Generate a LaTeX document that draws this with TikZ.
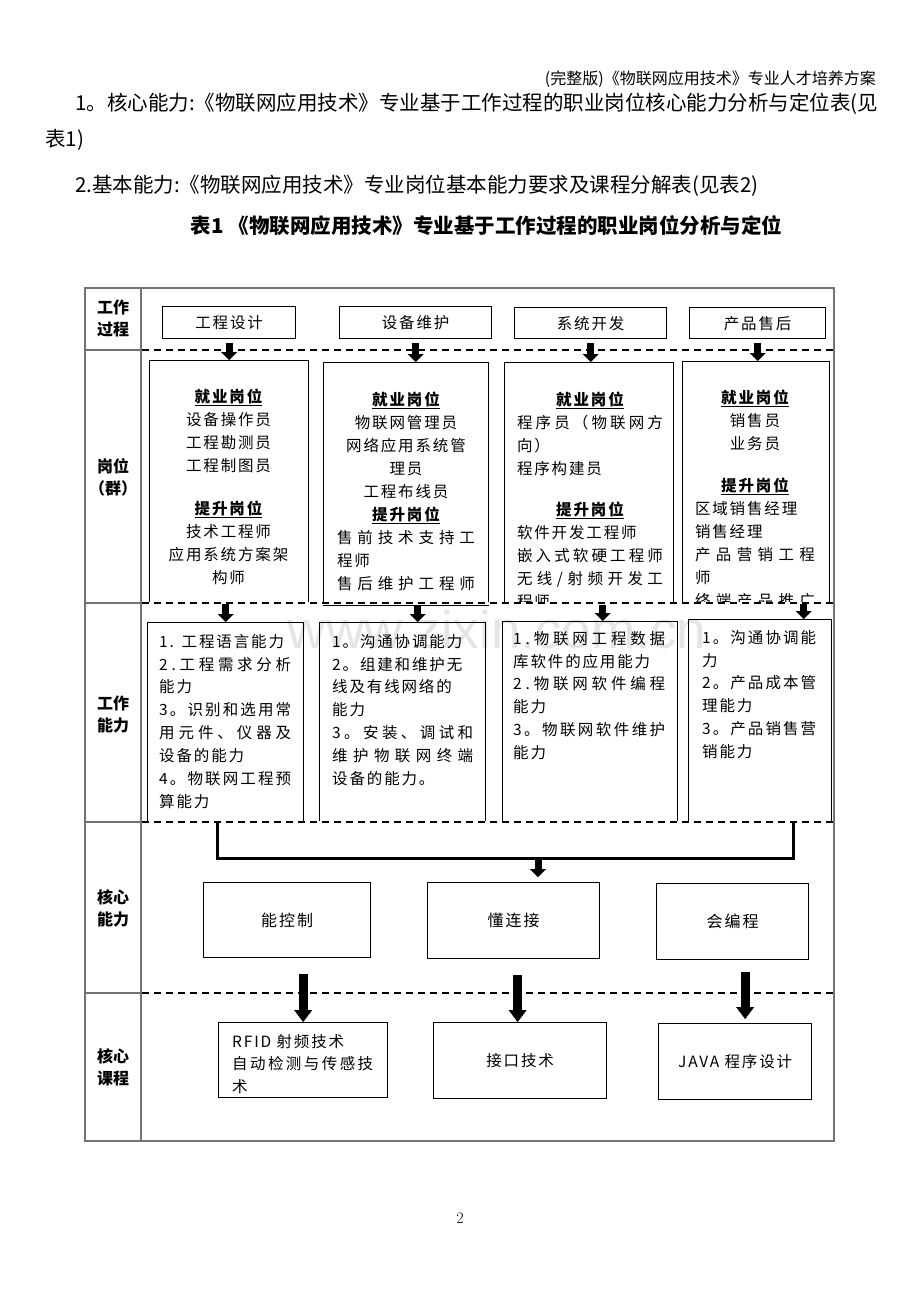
\documentclass[tikz,border=0pt]{standalone}
\usepackage{fontspec}
\usetikzlibrary{arrows.meta}
\newfontfamily\cjk{Noto Sans CJK SC}
\newfontfamily\cjkbox{Noto Sans CJK SC}[LetterSpace=12]
\newfontfamily\wmfont{Liberation Sans}
\setlength\parindent{0pt}
\newcommand\head[1]{\underline{\bfseries #1}}
\newcommand\lft[1]{\leavevmode\hbox to\hsize{#1\hfil}}
\newcommand\spread[2]{\leavevmode\hbox to #1{\spreadfirst#2\relax}}
\def\spreadfirst#1{#1\spreadrest}
\def\spreadrest#1{\ifx#1\relax\else\hfill#1\expandafter\spreadrest\fi}

\begin{document}
\begin{tikzpicture}[x=1pt,y=-1pt,
    box/.style={draw,line width=1.3pt,inner sep=0pt,anchor=north west,font=\cjkbox\fontsize{15.5}{20}\selectfont},
    jobtext/.style={inner sep=0pt,anchor=north,align=center,font=\cjkbox\fontsize{15.5}{23}\selectfont},
    abltext/.style={inner sep=0pt,anchor=north west,align=left,font=\cjkbox\fontsize{15.5}{22.85}\selectfont},
    lab/.style={inner sep=0pt,align=center,font=\cjk\bfseries\fontsize{16}{22}\selectfont},
    hd/.style={inner sep=0pt,font=\cjk\fontsize{20.5}{24}\selectfont},
    grid/.style={draw=black!55,line width=1.2pt},
    rowline/.style={line width=1.4pt,dash pattern=on 7pt off 5pt,preaction={draw=white,solid,line width=3pt}},
    bigarrow/.style={line width=7pt,-{Triangle[length=8pt,width=16pt,line width=0.2pt]}},
    fatarrow/.style={line width=9pt,-{Triangle[length=12pt,width=18pt,line width=0.2pt]}},
    bus/.style={line width=3pt}]
  \useasboundingbox (0,0) rectangle (920,1302);

  % page heading
  \node[hd,anchor=east,font=\cjk\fontsize{16}{18}\selectfont] (hd0) at (876,79) {(完整版)《物联网应用技术》专业人才培养方案};
  \node[hd,anchor=west] (hd1) at (75,104) {1。核心能力:《物联网应用技术》专业基于工作过程的职业岗位核心能力分析与定位表(见};
  \node[hd,anchor=west] (hd2) at (45,140) {表1)};
  \node[hd,anchor=west] (hd3) at (75,186) {2.基本能力:《物联网应用技术》专业岗位基本能力要求及课程分解表(见表2)};
  \node[hd,font=\cjk\bfseries\fontsize{20.5}{24}\selectfont] (title) at (486.5,226) {表1\ 《物联网应用技术》专业基于工作过程的职业岗位分析与定位};
  \node[text=black!10,font=\wmfont\fontsize{53}{53}\selectfont] (wm) at (497,630) {www.zixin.com.cn};

  % table
  \draw[grid] (85,288) rectangle (834,1141);
  \draw[grid] (141,288) -- (141,1141);
  \foreach \y in {350,603,822,993}
    \draw[grid] (85,\y) -- (141,\y);

  \node[lab] (l1) at (113,318) {工作\\过程};
  \node[lab] (l2) at (113,477.5) {岗位\\（群）};
  \node[lab] (l3) at (113,714) {工作\\能力};
  \node[lab] (l4) at (113,908) {核心\\能力};
  \node[lab] (l5) at (113,1067) {核心\\课程};

  % work process
  \node[box,minimum width=133pt,minimum height=32pt] (p1) at (162,306) {工程设计};
  \node[box,minimum width=152pt,minimum height=32pt] (p2) at (339,306) {设备维护};
  \node[box,minimum width=152pt,minimum height=31pt] (p3) at (514,307) {系统开发};
  \node[box,minimum width=136pt,minimum height=31pt] (p4) at (689,307) {产品售后};

  % posts
  \node[box,minimum width=159pt,minimum height=243pt] (j1) at (149,360) {};
  \node[box,minimum width=165pt,minimum height=243pt] (j2) at (323,362) {};
  \node[box,minimum width=169pt,minimum height=242pt] (j3) at (504,362) {};
  \node[box,minimum width=147pt,minimum height=242pt] (j4) at (682,361) {};
  \begin{scope}
    \clip (141,350) rectangle (834,604);
    \node[jobtext] (j1t) at (228.5,389) {\head{就业岗位}\\设备操作员\\工程勘测员\\工程制图员\\[20pt]\head{提升岗位}\\技术工程师\\应用系统方案架\\构师};
    \node[jobtext,text width=138pt] (j2t) at (406,392) {\head{就业岗位}\\物联网管理员\\网络应用系统管\\理员\\工程布线员\\\head{提升岗位}\\\spread{\hsize}{售前技术支持工}\\\lft{程师}\\\spread{\hsize}{售后维护工程师}};
    \node[jobtext,text width=146pt] (j3t) at (590,392) {\head{就业岗位}\\\spread{\hsize}{程序员（物联网方}\\\lft{向）}\\\lft{程序构建员}\\[18pt]\head{提升岗位}\\\lft{软件开发工程师}\\\spread{\hsize}{嵌入式软硬工程师}\\\spread{\hsize}{无线/射频开发工}\\\lft{程师}};
    \node[jobtext,text width=120pt] (j4t) at (755,390) {\head{就业岗位}\\销售员\\业务员\\[19pt]\head{提升岗位}\\\lft{区域销售经理}\\\lft{销售经理}\\\spread{\hsize}{产品营销工程}\\\lft{师}\\\spread{\hsize}{终端产品推广}};
  \end{scope}

  % work abilities
  \node[box,minimum width=156pt,minimum height=200pt] (a1) at (147,622) {};
  \node[box,minimum width=166pt,minimum height=200pt] (a2) at (319,622) {};
  \node[box,minimum width=175pt,minimum height=201pt] (a3) at (502,621) {};
  \node[box,minimum width=143pt,minimum height=203pt] (a4) at (688,619) {};
  \node[abltext,text width=132pt] (a1t) at (159,634) {1. 工程语言能力\\\spread{\hsize}{2.工程需求分析}\\能力\\\spread{\hsize}{3。识别和选用常}\\\spread{\hsize}{用元件、仪器及}\\设备的能力\\\spread{\hsize}{4。物联网工程预}\\算能力};
  \node[abltext,text width=141pt] (a2t) at (332,634) {1。沟通协调能力\\2。组建和维护无\\线及有线网络的\\能力\\\spread{\hsize}{3。安装、调试和}\\\spread{\hsize}{维护物联网终端}\\设备的能力。};
  \node[abltext,text width=152pt] (a3t) at (513,631) {\spread{\hsize}{1.物联网工程数据}\\库软件的应用能力\\\spread{\hsize}{2.物联网软件编程}\\能力\\\spread{\hsize}{3。物联网软件维护}\\能力};
  \node[abltext,text width=114pt] (a4t) at (702,630) {\spread{\hsize}{1。沟通协调能}\\力\\\spread{\hsize}{2。产品成本管}\\理能力\\\spread{\hsize}{3。产品销售营}\\销能力};

  % core abilities and courses
  \node[box,minimum width=167pt,minimum height=75pt,font=\cjkbox\fontsize{16}{20}\selectfont] (c1) at (203,882) {能控制};
  \node[box,minimum width=172pt,minimum height=76pt,font=\cjkbox\fontsize{16}{20}\selectfont] (c2) at (427,882) {懂连接};
  \node[box,minimum width=152pt,minimum height=76pt,font=\cjkbox\fontsize{16}{20}\selectfont] (c3) at (656,883) {会编程};

  \node[box,minimum width=169pt,minimum height=75pt] (k1) at (218,1022) {};
  \node[abltext,text width=141pt,font=\cjkbox\fontsize{15.5}{22.5}\selectfont] (k1t) at (232,1034) {RFID 射频技术\\\spread{\hsize}{自动检测与传感技}\\术};
  \node[box,minimum width=173pt,minimum height=76pt] (k2) at (433,1022) {接口技术};
  \node[box,minimum width=153pt,minimum height=76pt] (k3) at (658,1023) {JAVA 程序设计};

  % dashed row lines
  \foreach \y in {350,603,822,993}
    \draw[rowline] (142,\y) -- (833,\y);

  % arrows
  \foreach \i in {1,...,4}
    \draw[bigarrow,shorten <=4pt] (p\i.south) -- (p\i.south |- j\i.north);
  \foreach \i/\dx in {1/0,2/15,3/12.5,4/43.5}
    \draw[bigarrow] ([xshift=\dx pt]a\i.north |- j\i.south) -- ([xshift=\dx pt]a\i.north);

  \coordinate (busL) at (217,858);
  \coordinate (busR) at (793,858);
  \coordinate (busM) at (538,858);
  \draw[bus] (a1.south -| busL) -- (busL) -- (busR) -- (a4.south -| busR);
  \draw[bigarrow,shorten >=5pt] (busM) -- (busM |- c2.north);

  \foreach \i/\dx/\gap/\cut in {1/0/16/0,2/-2.5/16/0,3/10/12/4}
    \draw[fatarrow,shorten >=\cut pt] ([xshift=\dx pt]k\i.north |- c\i.south) ++(0,\gap) -- ([xshift=\dx pt]k\i.north);

  \node[font=\fontsize{16}{16}\selectfont] (pg) at (460,1218) {2};
\end{tikzpicture}
\end{document}
